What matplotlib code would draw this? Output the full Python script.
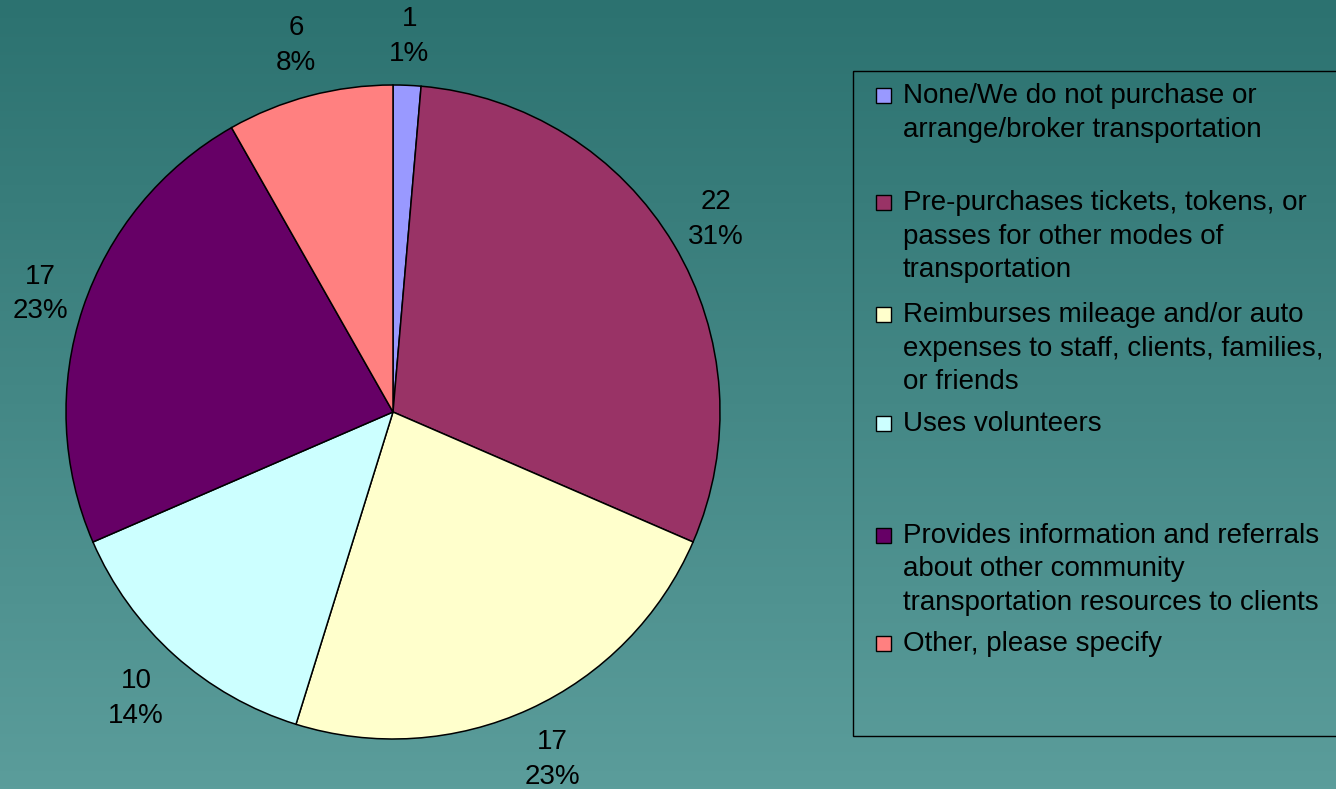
import numpy as np
import matplotlib
matplotlib.use("Agg")
import matplotlib.pyplot as plt
from matplotlib.patches import Rectangle

# ---------------------------------------------------------------------------
# Data
# ---------------------------------------------------------------------------
counts = [1, 22, 17, 10, 17, 6]
percent_labels = ["1%", "31%", "23%", "14%", "23%", "8%"]
categories = [
    "None/We do not purchase or\narrange/broker transportation",
    "Pre-purchases tickets, tokens, or\npasses for other modes of\ntransportation",
    "Reimburses mileage and/or auto\nexpenses to staff, clients, families,\nor friends",
    "Uses volunteers",
    "Provides information and referrals\nabout other community\ntransportation resources to clients",
    "Other, please specify",
]
colors = ["#9999FF", "#993366", "#FFFFCC", "#CCFFFF", "#660066", "#FF8080"]

# radial distance of each data label (fraction of the radius), as Excel put them
label_dist = [1.15, 1.15, 1.17, 1.177, 1.137, 1.16]

W, H = 1336, 789
plt.rcParams["font.family"] = ["Liberation Sans", "DejaVu Sans"]
FS = 20

fig = plt.figure(figsize=(W / 100, H / 100), dpi=100)

# background gradient (top dark teal -> lighter teal)
bg = fig.add_axes([0, 0, 1, 1], zorder=0)
top = np.array([44, 114, 112]) / 255
bot = np.array([91, 157, 155]) / 255
t = np.linspace(0, 1, 256)[:, None]
grad = (top[None, :] * (1 - t) + bot[None, :] * t)[:, None, :]
bg.imshow(grad, extent=[0, W, H, 0], aspect="auto")
bg.set_xlim(0, W)
bg.set_ylim(H, 0)
bg.axis("off")

# pie, centre (393, 412) px, radius 327 px
cx, cy, r = 393, 412, 327
ax = fig.add_axes([(cx - r) / W, 1 - (cy + r) / H, 2 * r / W, 2 * r / H], zorder=1)
wedges, _ = ax.pie(
    counts,
    colors=colors,
    startangle=90,
    counterclock=False,
    wedgeprops=dict(edgecolor="black", linewidth=1.1),
)
for w, c, p, d in zip(wedges, counts, percent_labels, label_dist):
    mid = np.deg2rad((w.theta1 + w.theta2) / 2)
    ax.text(d * np.cos(mid), d * np.sin(mid), f"{c}\n{p}", fontsize=FS,
            ha="center", va="center", linespacing=1.43, color="black")
ax.set_xlim(-1, 1)
ax.set_ylim(-1, 1)
ax.axis("off")

# legend drawn by hand to keep the uneven Excel spacing
lg = fig.add_axes([0, 0, 1, 1], zorder=2)
lg.set_xlim(0, W)
lg.set_ylim(H, 0)
lg.axis("off")
lg.patch.set_alpha(0)
lg.add_patch(Rectangle((853, 71), 500, 665, facecolor="none",
                       edgecolor="black", linewidth=1.0))
baselines = [103, 210, 322, 431, 543, 651]
line_step = 33.5
for name, col, yb in zip(categories, colors, baselines):
    lg.add_patch(Rectangle((876, yb - 15), 15, 15, facecolor=col,
                           edgecolor="black", linewidth=1.0))
    for i, line in enumerate(name.split("\n")):
        lg.text(903, yb + i * line_step, line, fontsize=FS,
                ha="left", va="baseline", color="black")

fig.savefig("out.png", dpi=100)
